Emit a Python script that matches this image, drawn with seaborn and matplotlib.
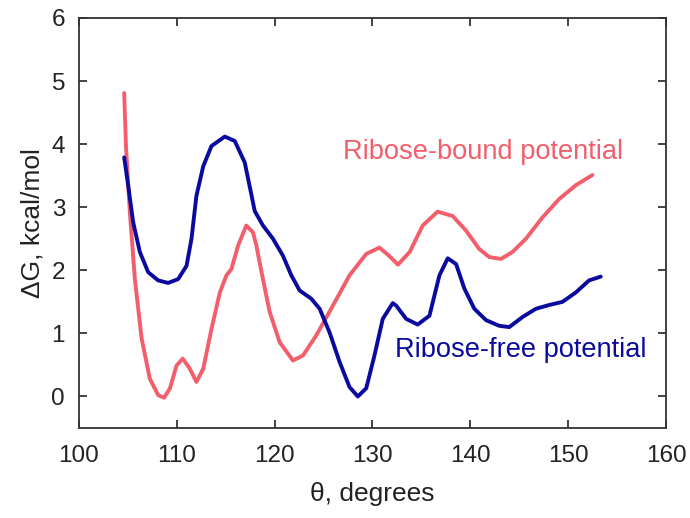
import matplotlib
matplotlib.use("Agg")
import matplotlib.pyplot as plt
import seaborn as sns
import pandas as pd

# Ribose-bound potential
bound_theta = [104.62, 104.8, 105.2, 105.71, 106.4, 107.24, 108.1, 108.7, 109.3, 109.97,
               110.6, 111.33, 112.0, 112.7, 113.54, 114.4, 115.07, 115.58, 116.26, 117.1,
               117.79, 118.13, 118.8, 119.49, 120.51, 121.87, 122.9, 124.26, 125.95, 127.65,
               129.36, 130.71, 131.7, 132.6, 133.8, 135.13, 136.66, 138.2, 139.56, 140.9,
               141.94, 143.13, 144.3, 145.68, 147.38, 149.08, 150.79, 152.48]
bound_dg = [4.81, 3.97, 2.92, 1.86, 0.92, 0.28, 0.02, -0.02, 0.13, 0.49,
            0.60, 0.44, 0.23, 0.44, 1.07, 1.65, 1.92, 2.02, 2.39, 2.71,
            2.60, 2.39, 1.86, 1.34, 0.86, 0.57, 0.65, 0.97, 1.44, 1.92,
            2.26, 2.36, 2.23, 2.09, 2.29, 2.71, 2.93, 2.86, 2.63, 2.34,
            2.21, 2.18, 2.29, 2.50, 2.84, 3.13, 3.35, 3.51]

# Ribose-free potential
free_theta = [104.62, 105.03, 105.54, 106.22, 107.07, 108.09, 109.11, 110.13, 110.99, 111.5,
              112.0, 112.7, 113.54, 114.9, 115.92, 116.94, 117.62, 117.96, 118.8, 119.83,
              120.85, 121.7, 122.55, 123.74, 124.6, 125.6, 126.63, 127.65, 128.5, 129.36,
              130.2, 131.05, 132.07, 132.42, 133.44, 134.62, 135.82, 136.84, 137.69, 138.54,
              139.39, 140.41, 141.6, 142.96, 143.98, 145.34, 146.7, 148.06, 149.42, 150.79,
              152.14, 153.33]
free_dg = [3.79, 3.34, 2.76, 2.29, 1.97, 1.84, 1.80, 1.86, 2.07, 2.50,
           3.18, 3.65, 3.97, 4.12, 4.05, 3.71, 3.20, 2.94, 2.71, 2.50,
           2.23, 1.92, 1.68, 1.55, 1.39, 1.02, 0.55, 0.15, 0.0, 0.13,
           0.65, 1.23, 1.48, 1.44, 1.23, 1.14, 1.28, 1.92, 2.19, 2.10,
           1.71, 1.39, 1.21, 1.12, 1.10, 1.26, 1.39, 1.45, 1.50, 1.65,
           1.84, 1.90]

x_ticks = [100, 110, 120, 130, 140, 150, 160]
y_ticks = [0, 1, 2, 3, 4, 5, 6]

RED = "#f25e6b"
BLUE = "#0a0a9e"

sns.set_style("ticks")
plt.rcParams["font.family"] = ["Liberation Sans", "DejaVu Sans"]

fig = plt.figure(figsize=(6.9, 5.18), dpi=100)
ax = fig.add_axes([79/690, 1 - 428/518, (666 - 79)/690, (428 - 18)/518])

df_b = pd.DataFrame({"theta": bound_theta, "dg": bound_dg})
df_f = pd.DataFrame({"theta": free_theta, "dg": free_dg})
sns.lineplot(data=df_b, x="theta", y="dg", ax=ax, color=RED, lw=2.8, sort=False,
             solid_joinstyle="round", solid_capstyle="round")
sns.lineplot(data=df_f, x="theta", y="dg", ax=ax, color=BLUE, lw=2.8, sort=False,
             solid_joinstyle="round", solid_capstyle="round")

ax.set_xlim(100, 160)
ax.set_ylim(-0.5, 6)
ax.set_xticks(x_ticks)
ax.set_yticks(y_ticks)
ax.tick_params(direction="in", length=6, width=1.2, top=True, right=True,
               labelsize=17.5, colors="#222222")
ax.tick_params(axis="x", pad=12)
ax.tick_params(axis="y", pad=10)
for s in ax.spines.values():
    s.set_linewidth(1.3)
    s.set_color("#333333")
    s.set_visible(True)

ax.set_xlabel("θ, degrees", fontsize=19, labelpad=11, color="#222222")
ax.set_ylabel("ΔG, kcal/mol", fontsize=19, labelpad=5, color="#222222")

ax.text(127.0, 3.88, "Ribose-bound potential", color=RED, fontsize=19.6, va="center", ha="left")
ax.text(132.3, 0.73, "Ribose-free potential", color=BLUE, fontsize=19.6, va="center", ha="left")

fig.savefig("out.png", dpi=100)
